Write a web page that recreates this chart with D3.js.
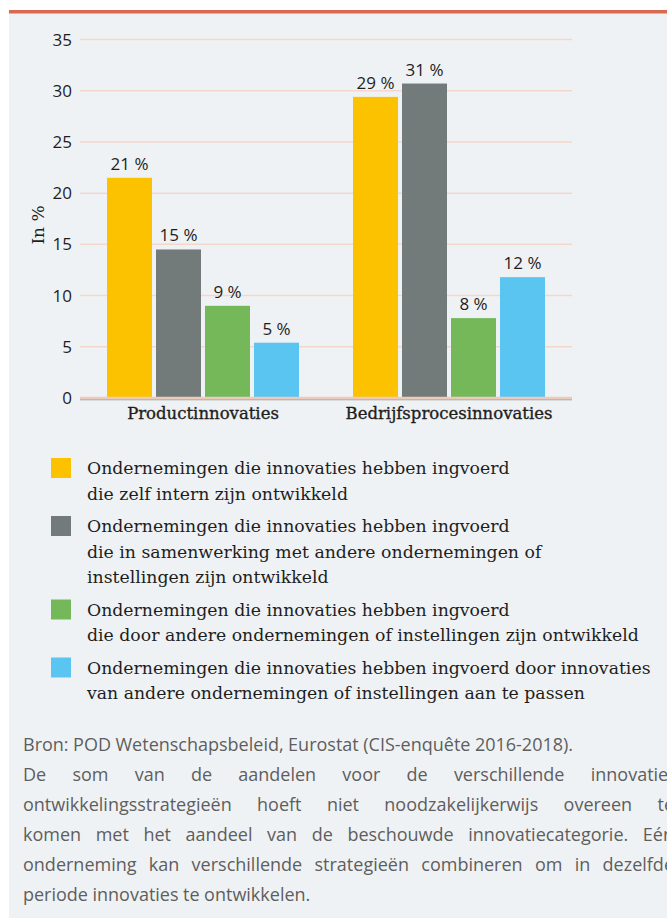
<!DOCTYPE html>
<html>
<head>
<meta charset="utf-8">
<script src="https://cdn.jsdelivr.net/npm/d3@7"></script>
<style>
  body { margin: 0; background: #fff; }
  svg { display: block; }
</style>
</head>
<body>
<div id="plot"></div>
<script>
var width = 667;
var height = 920;

// data
var categories = ['Productinnovaties', 'Bedrijfsprocesinnovaties'];
var series = ['intern', 'samenwerking', 'andere', 'aanpassen'];
var values_intern = [21.5, 29.4];
var values_samenwerking = [14.5, 30.7];
var values_andere = [9.0, 7.8];
var values_aanpassen = [5.4, 11.8];
var labels_intern = ['21 %', '29 %'];
var labels_samenwerking = ['15 %', '31 %'];
var labels_andere = ['9 %', '8 %'];
var labels_aanpassen = ['5 %', '12 %'];
var y_ticks = [0, 5, 10, 15, 20, 25, 30, 35];
var colors = ['#fcc200', '#727b7a', '#74b85a', '#5bc5f2'];

var legend_lines = [
    ['Ondernemingen die innovaties hebben ingvoerd', 'die zelf intern zijn ontwikkeld'],
    ['Ondernemingen die innovaties hebben ingvoerd', 'die in samenwerking met andere ondernemingen of', 'instellingen zijn ontwikkeld'],
    ['Ondernemingen die innovaties hebben ingvoerd', 'die door andere ondernemingen of instellingen zijn ontwikkeld'],
    ['Ondernemingen die innovaties hebben ingvoerd door innovaties', 'van andere ondernemingen of instellingen aan te passen']
];

var note_lines = [
    'Bron: POD Wetenschapsbeleid, Eurostat (CIS-enquête 2016-2018).',
    'De som van de aandelen voor de verschillende innovatie-',
    'ontwikkelingsstrategieën hoeft niet noodzakelijkerwijs overeen te',
    'komen met het aandeel van de beschouwde innovatiecategorie. Eén',
    'onderneming kan verschillende strategieën combineren om in dezelfde',
    'periode innovaties te ontwikkelen.'
];
var note_justify = [false, true, true, true, true, false];

var all_values = [values_intern, values_samenwerking, values_andere, values_aanpassen];
var all_labels = [labels_intern, labels_samenwerking, labels_andere, labels_aanpassen];

var data = [];
categories.forEach(function(c, ci) {
    series.forEach(function(s, si) {
        data.push({ cat: c, series: s, si: si, value: all_values[si][ci], label: all_labels[si][ci] });
    });
});

var serif = '"DejaVu Serif", serif';
var sans = '"Open Sans", "Noto Sans", sans-serif';

var canvas = d3.select('#plot')
    .append('svg')
    .attr('width', width)
    .attr('height', height);

// panel background + top rule
canvas.append('rect')
    .attr('x', 9).attr('y', 10)
    .attr('width', width - 9).attr('height', height - 12)
    .attr('fill', '#eff2f4');
canvas.append('rect')
    .attr('x', 9).attr('y', 10)
    .attr('width', width - 9).attr('height', 3.5)
    .attr('fill', '#d9694f');

var x_scale = d3.scaleBand()
    .domain(categories)
    .range([80, 572]);

var x_inner = d3.scaleBand()
    .domain(series)
    .range([0, 192])
    .paddingInner(4 / 49);

var y_scale = d3.scaleLinear()
    .domain([0, 35])
    .range([398, 39.5]);

function bar_x(d) {
    return x_scale(d.cat) + x_scale.bandwidth() / 2 - 96 + x_inner(d.series);
}

// gridlines
canvas.selectAll('line.grid')
    .data(y_ticks.filter(function(t) { return t > 0; }))
    .enter()
    .append('line')
    .attr('class', 'grid')
    .attr('x1', 80).attr('x2', 572)
    .attr('y1', function(d) { return y_scale(d); })
    .attr('y2', function(d) { return y_scale(d); })
    .attr('stroke', '#f5d6cb')
    .attr('stroke-width', 1.5);

// y tick labels
canvas.selectAll('text.ytick')
    .data(y_ticks)
    .enter()
    .append('text')
    .attr('class', 'ytick')
    .attr('x', 72)
    .attr('y', function(d) { return y_scale(d); })
    .attr('dy', '0.36em')
    .attr('text-anchor', 'end')
    .style('font-family', sans)
    .style('font-size', '17px')
    .style('fill', '#1e1e1e')
    .text(function(d) { return d; });

canvas.append('text')
    .attr('transform', 'translate(38,225) rotate(-90)')
    .attr('dy', '0.35em')
    .attr('text-anchor', 'middle')
    .style('font-family', serif)
    .style('font-size', '17px')
    .style('fill', '#1e1e1e')
    .text('In %');

// bars
canvas.selectAll('rect.bar')
    .data(data)
    .enter()
    .append('rect')
    .attr('class', 'bar')
    .attr('x', bar_x)
    .attr('width', x_inner.bandwidth())
    .attr('y', function(d) { return y_scale(d.value); })
    .attr('height', function(d) { return y_scale(0) - y_scale(d.value); })
    .attr('fill', function(d) { return colors[d.si]; });

// value labels
canvas.selectAll('text.value')
    .data(data)
    .enter()
    .append('text')
    .attr('class', 'value')
    .attr('x', function(d) { return bar_x(d) + x_inner.bandwidth() / 2; })
    .attr('y', function(d) { return y_scale(d.value) - 8; })
    .attr('text-anchor', 'middle')
    .style('font-family', sans)
    .style('font-size', '17px')
    .style('font-weight', 500)
    .style('fill', '#1e1e1e')
    .text(function(d) { return d.label; });

// zero line
canvas.append('line')
    .attr('x1', 80).attr('x2', 572)
    .attr('y1', 398).attr('y2', 398)
    .attr('stroke', '#eccabc')
    .attr('stroke-width', 2.5);
canvas.append('line')
    .attr('x1', 80).attr('x2', 572)
    .attr('y1', 399.8).attr('y2', 399.8)
    .attr('stroke', '#a9a3a0')
    .attr('stroke-width', 1);

// category labels
canvas.selectAll('text.cat')
    .data(categories)
    .enter()
    .append('text')
    .attr('class', 'cat')
    .attr('x', function(d) { return x_scale(d) + x_scale.bandwidth() / 2; })
    .attr('y', 419)
    .attr('text-anchor', 'middle')
    .style('font-family', serif)
    .style('font-size', '16.5px')
    .style('fill', '#1e1e1e')
    .style('stroke', '#1e1e1e')
    .style('stroke-width', 0.35)
    .text(function(d) { return d; });

// legend
var ly = 468;
legend_lines.forEach(function(lines, i) {
    canvas.append('rect')
        .attr('x', 51).attr('y', ly - 10)
        .attr('width', 20).attr('height', 20)
        .attr('fill', colors[i]);
    canvas.append('g').selectAll('text')
        .data(lines)
        .enter()
        .append('text')
        .attr('x', 87)
        .attr('y', function(d, j) { return ly + j * 25.5; })
        .attr('dy', '0.35em')
        .style('font-family', serif)
        .style('font-size', '17.3px')
        .style('fill', '#1e1e1e')
        .text(function(d) { return d; });
    ly += (lines.length - 1) * 25.5 + 32.5;
});

// note, justified lines
var note_left = 23, note_right = 674;
note_lines.forEach(function(line, i) {
    var y = 745 + i * 30;
    var g = canvas.append('g');
    var words = line.split(' ');
    var texts = g.selectAll('text')
        .data(words)
        .enter()
        .append('text')
        .attr('y', y)
        .attr('dy', '0.35em')
        .style('font-family', sans)
        .style('font-size', '18px')
        .style('fill', '#5e5e5e')
        .text(function(d) { return d; });
    var widths = [];
    texts.each(function() { widths.push(this.getComputedTextLength()); });
    var total = d3.sum(widths);
    var gap = note_justify[i] ? (note_right - note_left - total) / (words.length - 1) : 4.5;
    var x = note_left;
    texts.attr('x', function(d, j) {
        var px = x;
        x += widths[j] + gap;
        return px;
    });
});
</script>
</body>
</html>
